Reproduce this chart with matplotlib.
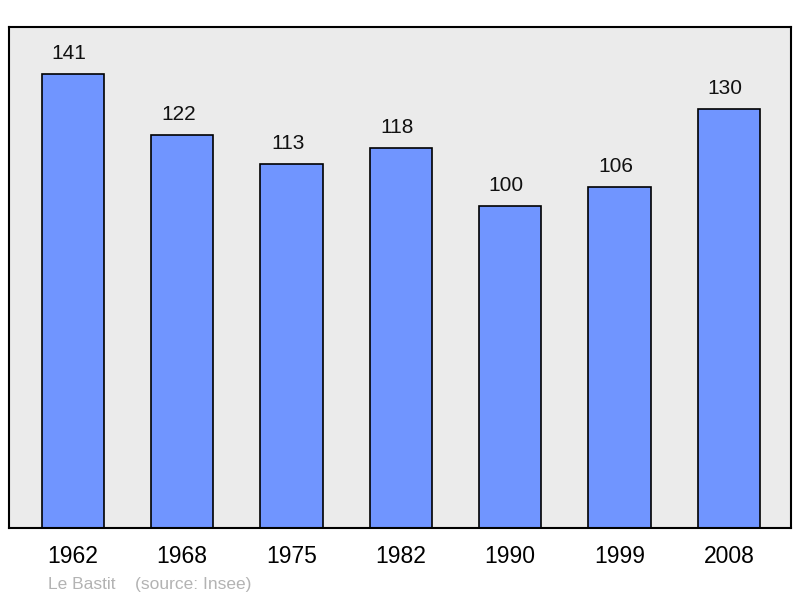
import matplotlib
matplotlib.use("Agg")
import matplotlib.pyplot as plt

plt.rcParams['font.family'] = ['Liberation Sans', 'DejaVu Sans']

years = ["1962", "1968", "1975", "1982", "1990", "1999", "2008"]
population = [141, 122, 113, 118, 100, 106, 130]

fig = plt.figure(figsize=(8, 5.98), dpi=100)
ax = fig.add_axes([0.011, 0.117, 0.978, 0.838])
ax.set_facecolor('#ebebeb')

x = range(len(years))
ax.bar(x, population, width=0.57, color='#7095ff', edgecolor='black', linewidth=1.2, zorder=2)

# labels sit a little left of bar centre, like the original
for xi, v in zip(x, population):
    ax.text(xi - 0.035, v + 3.4, str(v), ha='center', va='bottom', fontsize=15, color='#111111')

ax.set_xlim(-0.585, 6.57)
ax.set_ylim(0, 155.6)
ax.set_yticks([])
ax.set_xticks(list(x))
ax.set_xticklabels(years, fontsize=16.5)
ax.tick_params(axis='x', length=0, pad=12.5)
for s in ax.spines.values():
    s.set_linewidth(1.5)

fig.text(0.06, 0.015, "Le Bastit    (source: Insee)", fontsize=12.5, color='#b3b3b3')

fig.savefig("out.png", dpi=100)
